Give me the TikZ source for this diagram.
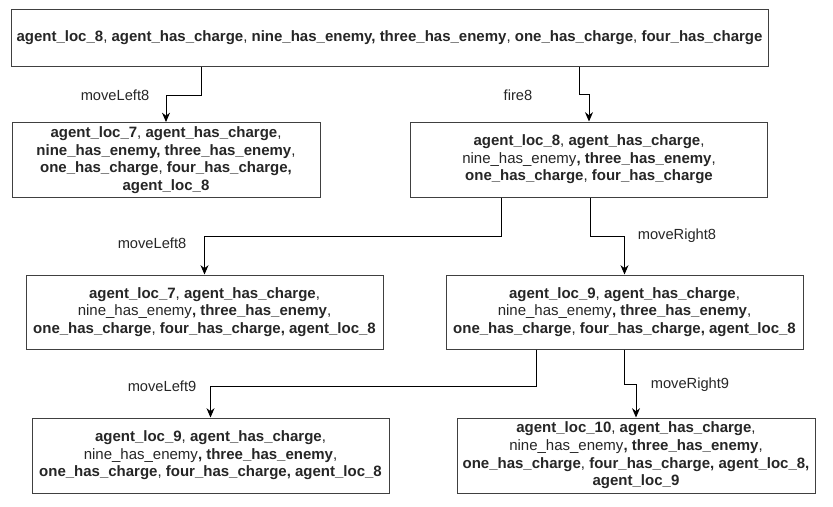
\documentclass[tikz,border=0pt]{standalone}
\usepackage{fontspec}
\setmainfont{Liberation Sans}
\usetikzlibrary{arrows.meta}

\begin{document}
\begin{tikzpicture}[x=0.75pt, y=-0.75pt, line width=0.75pt,
    state/.style={draw=black!75, fill=white, align=center, inner sep=0pt,
        font=\fontsize{11.25}{13.2}\selectfont, text=black!85},
    flow/.style={-{Stealth[length=7pt, width=6pt]}, black},
    act/.style={font=\fontsize{11}{13}\selectfont, text=black!85}]
    % Fix the page to the size of the reference
    \useasboundingbox (0,0) rectangle (833,507);

    % Root state
    \node[state, minimum width=757*0.75pt, minimum height=57*0.75pt] (s0) at (389.5,38)
        {\textbf{agent\_loc\_8}, \textbf{agent\_has\_charge}, \textbf{nine\_has\_enemy, three\_has\_enemy}, \textbf{one\_has\_charge}, \textbf{four\_has\_charge}};

    % First level
    \node[state, minimum width=308*0.75pt, minimum height=75*0.75pt] (s1) at (166,160)
        {\textbf{agent\_loc\_7}, \textbf{agent\_has\_charge},\\
         \textbf{nine\_has\_enemy, three\_has\_enemy},\\
         \textbf{one\_has\_charge}, \textbf{four\_has\_charge,}\\
         \textbf{agent\_loc\_8}};
    \node[state, minimum width=357*0.75pt, minimum height=75*0.75pt] (s2) at (589,159.5)
        {\textbf{agent\_loc\_8}, \textbf{agent\_has\_charge},\\
         nine\_has\_enemy\textbf{, three\_has\_enemy},\\
         \textbf{one\_has\_charge}, \textbf{four\_has\_charge}};

    % Second level
    \node[state, minimum width=357*0.75pt, minimum height=74*0.75pt] (s3) at (204.5,312)
        {\textbf{agent\_loc\_7}, \textbf{agent\_has\_charge},\\
         nine\_has\_enemy\textbf{, three\_has\_enemy},\\
         \textbf{one\_has\_charge}, \textbf{four\_has\_charge, agent\_loc\_8}};
    \node[state, minimum width=357*0.75pt, minimum height=74*0.75pt] (s4) at (624.5,312)
        {\textbf{agent\_loc\_9}, \textbf{agent\_has\_charge},\\
         nine\_has\_enemy\textbf{, three\_has\_enemy},\\
         \textbf{one\_has\_charge}, \textbf{four\_has\_charge, agent\_loc\_8}};

    % Third level
    \node[state, minimum width=357*0.75pt, minimum height=75*0.75pt] (s5) at (210.5,455.5)
        {\textbf{agent\_loc\_9}, \textbf{agent\_has\_charge},\\
         nine\_has\_enemy\textbf{, three\_has\_enemy},\\
         \textbf{one\_has\_charge}, \textbf{four\_has\_charge, agent\_loc\_8}};
    \node[state, minimum width=358*0.75pt, minimum height=75*0.75pt] (s6) at (636,455.5)
        {\textbf{agent\_loc\_10}, \textbf{agent\_has\_charge},\\
         nine\_has\_enemy\textbf{, three\_has\_enemy},\\
         \textbf{one\_has\_charge}, \textbf{four\_has\_charge, agent\_loc\_8,}\\
         \textbf{agent\_loc\_9}};

    % Transitions
    \draw[flow] (s0.south -| 201,0) |- (s1.north |- 0,95) -- (s1.north);
    \node[act] (a1) at (115,95) {moveLeft8};
    \draw[flow] (s0.south -| 579,0) |- (s2.north |- 0,94) -- (s2.north);
    \node[act] (a2) at (518,95) {fire8};

    \draw[flow] (s2.south -| 501,0) |- (s3.north |- 0,236) -- (s3.north);
    \node[act] (a3) at (152,243) {moveLeft8};
    \draw[flow] (s2.south -| 590,0) |- (s4.north |- 0,236) -- (s4.north);
    \node[act] (a4) at (677,236) {moveRight8};

    \draw[flow] (s4.south -| 536,0) |- (s5.north |- 0,386) -- (s5.north);
    \node[act] (a5) at (162,386) {moveLeft9};
    \draw[flow] (s4.south -| 624,0) |- (s6.north |- 0,384) -- (s6.north);
    \node[act] (a6) at (690,385) {moveRight9};

\end{tikzpicture}
\end{document}
